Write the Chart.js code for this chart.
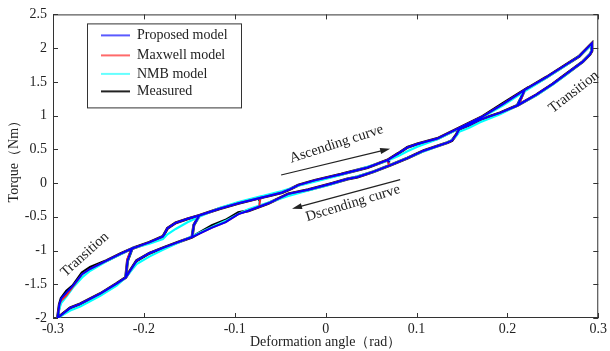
<!DOCTYPE html>
<html>
<head>
<meta charset="utf-8">
<script src="https://cdn.jsdelivr.net/npm/chart.js@4.4.1/dist/chart.umd.min.js"></script>
<style>
    html, body { margin: 0; padding: 0; background: #fff; }
    canvas { display: block; }
</style>
</head>
<body>
<canvas id="torqueChart" width="610" height="351"></canvas>
<script>
// Hysteresis path: ascending branch left to right, then descending branch back
const angle = [
    -0.295, -0.293, -0.291, -0.285, -0.278, -0.268, -0.259, -0.241, -0.226, -0.213,
    -0.218, -0.220, -0.218, -0.213, -0.194, -0.179, -0.174, -0.165, -0.152, -0.139,
    -0.145, -0.147, -0.145, -0.139, -0.117, -0.096, -0.072, -0.073, -0.072, -0.060,
    -0.048, -0.039, -0.030, -0.012, 0.017, 0.046, 0.068, 0.070, 0.068, 0.080,
    0.090, 0.101, 0.123, 0.146, 0.173, 0.195, 0.219, 0.215, 0.211, 0.215,
    0.219, 0.243, 0.264, 0.279, 0.293, 0.293, 0.291, 0.283, 0.264, 0.250,
    0.232, 0.211, 0.192, 0.170, 0.158, 0.147, 0.144, 0.139, 0.134, 0.108,
    0.090, 0.072, 0.053, 0.035, 0.024, 0.006, -0.019, -0.041, -0.063, -0.085,
    -0.096, -0.110, -0.125, -0.147, -0.163, -0.179, -0.194, -0.208, -0.220, -0.230,
    -0.248, -0.270, -0.281, -0.295
];

const measured = [
    -2.00, -1.80, -1.71, -1.60, -1.52, -1.33, -1.25, -1.15, -1.05, -0.97,
    -1.15, -1.40, -1.15, -0.97, -0.88, -0.79, -0.67, -0.59, -0.53, -0.48,
    -0.62, -0.80, -0.62, -0.48, -0.38, -0.30, -0.22, -0.27, -0.22, -0.18,
    -0.14, -0.09, -0.03, 0.04, 0.13, 0.23, 0.34, 0.30, 0.34, 0.44,
    0.53, 0.58, 0.66, 0.81, 0.99, 1.18, 1.38, 1.26, 1.15, 1.26,
    1.38, 1.57, 1.75, 1.88, 2.07, 1.96, 1.91, 1.80, 1.61, 1.47,
    1.31, 1.15, 1.04, 0.94, 0.86, 0.80, 0.72, 0.63, 0.60, 0.48,
    0.37, 0.27, 0.17, 0.09, 0.06, -0.01, -0.10, -0.16, -0.30, -0.41,
    -0.44, -0.55, -0.63, -0.80, -0.88, -0.96, -1.04, -1.15, -1.40, -1.49,
    -1.64, -1.79, -1.85, -2.00
];

const proposed = [
    -2.00, -1.80, -1.71, -1.62, -1.52, -1.35, -1.27, -1.15, -1.05, -0.97,
    -1.15, -1.40, -1.15, -0.97, -0.88, -0.79, -0.67, -0.59, -0.53, -0.48,
    -0.62, -0.80, -0.62, -0.48, -0.38, -0.30, -0.22, -0.24, -0.22, -0.18,
    -0.14, -0.09, -0.03, 0.04, 0.13, 0.23, 0.34, 0.31, 0.34, 0.44,
    0.53, 0.58, 0.66, 0.81, 0.99, 1.17, 1.38, 1.26, 1.15, 1.26,
    1.38, 1.57, 1.75, 1.88, 2.07, 1.96, 1.91, 1.80, 1.61, 1.47,
    1.31, 1.15, 1.04, 0.94, 0.86, 0.80, 0.72, 0.63, 0.60, 0.48,
    0.37, 0.27, 0.17, 0.09, 0.06, -0.01, -0.10, -0.16, -0.30, -0.41,
    -0.46, -0.58, -0.66, -0.80, -0.88, -0.96, -1.04, -1.15, -1.40, -1.49,
    -1.64, -1.79, -1.85, -2.00
];

const maxwell = [
    -2.00, -1.80, -1.74, -1.66, -1.53, -1.35, -1.27, -1.15, -1.05, -0.97,
    -1.12, -1.40, -1.12, -0.97, -0.88, -0.79, -0.67, -0.59, -0.53, -0.48,
    -0.62, -0.80, -0.62, -0.48, -0.38, -0.30, -0.22, -0.35, -0.22, -0.18,
    -0.14, -0.09, -0.03, 0.04, 0.13, 0.23, 0.34, 0.26, 0.34, 0.44,
    0.53, 0.58, 0.66, 0.81, 0.99, 1.17, 1.38, 1.24, 1.15, 1.24,
    1.38, 1.57, 1.75, 1.88, 2.07, 1.96, 1.91, 1.80, 1.61, 1.47,
    1.31, 1.15, 1.04, 0.94, 0.86, 0.80, 0.72, 0.63, 0.60, 0.48,
    0.37, 0.27, 0.17, 0.09, 0.06, -0.01, -0.10, -0.16, -0.30, -0.41,
    -0.46, -0.58, -0.66, -0.80, -0.88, -0.96, -1.04, -1.15, -1.40, -1.49,
    -1.64, -1.79, -1.85, -2.00
];

const nmb = [
    -2.00, -1.86, -1.78, -1.68, -1.55, -1.40, -1.30, -1.16, -1.06, -0.97,
    -1.15, -1.40, -1.15, -0.97, -0.90, -0.83, -0.76, -0.68, -0.58, -0.50,
    -0.62, -0.80, -0.62, -0.50, -0.37, -0.28, -0.20, -0.32, -0.20, -0.16,
    -0.12, -0.08, -0.04, 0.02, 0.12, 0.24, 0.33, 0.27, 0.33, 0.40,
    0.47, 0.54, 0.65, 0.80, 0.98, 1.15, 1.36, 1.26, 1.15, 1.26,
    1.36, 1.56, 1.74, 1.88, 2.05, 1.98, 1.92, 1.80, 1.60, 1.46,
    1.30, 1.15, 1.02, 0.90, 0.82, 0.76, 0.70, 0.64, 0.60, 0.47,
    0.37, 0.27, 0.17, 0.10, 0.06, -0.02, -0.11, -0.19, -0.29, -0.39,
    -0.46, -0.56, -0.65, -0.79, -0.89, -0.99, -1.09, -1.20, -1.40, -1.52,
    -1.67, -1.83, -1.89, -2.00
];

const angleTicks = [-0.3, -0.2, -0.1, 0, 0.1, 0.2, 0.3];
const torqueTicks = [-2, -1.5, -1, -0.5, 0, 0.5, 1, 1.5, 2, 2.5];

// text labels placed in data units: [text, angle, torque, rotation in degrees]
const notes = [
    ["Ascending curve", 0.012, 0.58, -18],
    ["Dscending curve", 0.030, -0.30, -17],
    ["Transition", -0.265, -1.06, -42],
    ["Transition", 0.273, 1.35, -38]
];
// arrows: [fromAngle, fromTorque, toAngle, toTorque]
const arrows = [
    [-0.049, 0.12, 0.071, 0.51],
    [0.082, 0.05, -0.037, -0.38]
];

const serif = '"Liberation Serif", "Times New Roman", serif';
const inkColor = "#222";

function toPoints(torque) {
    return angle.map((a, i) => ({ x: a, y: torque[i] }));
}

// box frame with inward tick marks on all four sides
const frameTicks = {
    id: "frameTicks",
    beforeDatasetsDraw(chart) {
        const { ctx, chartArea: a, scales: { x, y } } = chart;
        ctx.save();
        ctx.strokeStyle = "#333";
        ctx.lineWidth = 1;
        ctx.strokeRect(a.left + 0.5, a.top + 0.5, a.right - a.left - 1, a.bottom - a.top - 1);
        ctx.beginPath();
        const len = 5;
        angleTicks.forEach((v) => {
            const px = Math.round(x.getPixelForValue(v)) + 0.5;
            ctx.moveTo(px, a.bottom);
            ctx.lineTo(px, a.bottom - len);
            ctx.moveTo(px, a.top);
            ctx.lineTo(px, a.top + len);
        });
        torqueTicks.forEach((v) => {
            const py = Math.round(y.getPixelForValue(v)) + 0.5;
            ctx.moveTo(a.left, py);
            ctx.lineTo(a.left + len, py);
            ctx.moveTo(a.right, py);
            ctx.lineTo(a.right - len, py);
        });
        ctx.stroke();

        // torque axis title, sitting a little above the middle of the axis
        ctx.fillStyle = inkColor;
        ctx.font = "14px " + serif;
        ctx.textAlign = "center";
        ctx.textBaseline = "middle";
        ctx.translate(14, (a.top + a.bottom) / 2 - 8);
        ctx.rotate(-Math.PI / 2);
        ctx.fillText("Torque（Nm）", 0, 0);
        ctx.restore();
    },
};

// legend box in the upper left of the plot
const boxLegend = {
    id: "boxLegend",
    afterDraw(chart) {
        const { ctx, chartArea: a } = chart;
        const left = a.left + 34;
        const top = a.top + 9;
        const rows = [12, 32, 50.5, 68];
        ctx.save();
        ctx.fillStyle = "#fff";
        ctx.fillRect(left, top, 154, 84);
        ctx.strokeStyle = "#333";
        ctx.lineWidth = 1;
        ctx.strokeRect(left + 0.5, top + 0.5, 154, 84);
        ctx.font = "14px " + serif;
        ctx.textBaseline = "middle";
        chart.data.datasets.forEach((ds, i) => {
            const yy = top + rows[i];
            ctx.strokeStyle = ds.legendColor;
            ctx.lineWidth = 2;
            ctx.beginPath();
            ctx.moveTo(left + 14, yy);
            ctx.lineTo(left + 43, yy);
            ctx.stroke();
            ctx.fillStyle = inkColor;
            ctx.fillText(ds.label, left + 50, yy);
        });
        ctx.restore();
    },
};

// curve names, transition labels and direction arrows
const annotations = {
    id: "annotations",
    afterDatasetsDraw(chart) {
        const { ctx, scales: { x, y } } = chart;
        ctx.save();
        ctx.fillStyle = inkColor;
        ctx.strokeStyle = inkColor;
        ctx.font = "14.5px " + serif;
        ctx.textAlign = "center";
        ctx.textBaseline = "middle";
        notes.forEach(([text, nx, ny, rot]) => {
            ctx.save();
            ctx.translate(x.getPixelForValue(nx), y.getPixelForValue(ny));
            ctx.rotate((rot * Math.PI) / 180);
            ctx.fillText(text, 0, 0);
            ctx.restore();
        });
        arrows.forEach(([x0, y0, x1, y1]) => {
            const ax = x.getPixelForValue(x0), ay = y.getPixelForValue(y0);
            const bx = x.getPixelForValue(x1), by = y.getPixelForValue(y1);
            const t = Math.atan2(by - ay, bx - ax);
            ctx.lineWidth = 1.2;
            ctx.beginPath();
            ctx.moveTo(ax, ay);
            ctx.lineTo(bx - 6 * Math.cos(t), by - 6 * Math.sin(t));
            ctx.stroke();
            ctx.beginPath();
            ctx.moveTo(bx, by);
            ctx.lineTo(bx - 10 * Math.cos(t) + 3 * Math.sin(t), by - 10 * Math.sin(t) - 3 * Math.cos(t));
            ctx.lineTo(bx - 10 * Math.cos(t) - 3 * Math.sin(t), by - 10 * Math.sin(t) + 3 * Math.cos(t));
            ctx.closePath();
            ctx.fill();
        });
        ctx.restore();
    },
};

const ctx = document.getElementById("torqueChart").getContext("2d");

new Chart(ctx, {
    type: "scatter",
    data: {
        datasets: [
            { label: "Proposed model", data: toPoints(proposed), borderColor: "#0000ff", legendColor: "#5a5aff", borderWidth: 2 },
            { label: "Maxwell model", data: toPoints(maxwell), borderColor: "#ff2020", legendColor: "#ff6a6a", borderWidth: 2 },
            { label: "NMB model", data: toPoints(nmb), borderColor: "#00ffff", legendColor: "#66ffff", borderWidth: 2.2 },
            { label: "Measured", data: toPoints(measured), borderColor: "#000000", legendColor: "#222", borderWidth: 3 },
        ].map((ds) => ({ ...ds, showLine: true, pointRadius: 0, tension: 0, fill: false })),
    },
    options: {
        responsive: false,
        animation: false,
        devicePixelRatio: 1,
        layout: {
            padding: { top: 13, right: 7, left: 0, bottom: 0 },
        },
        plugins: {
            legend: { display: false },
            tooltip: { enabled: false },
        },
        scales: {
            x: {
                type: "linear",
                min: -0.3,
                max: 0.3,
                afterBuildTicks: (scale) => {
                    scale.ticks = angleTicks.map((v) => ({ value: v }));
                },
                afterFit: (scale) => {
                    scale.height = 33;
                },
                grid: { display: false, drawTicks: false },
                border: { display: false },
                ticks: {
                    padding: 3,
                    color: inkColor,
                    font: { family: serif, size: 14 },
                    maxRotation: 0,
                    callback: (v) => String(v),
                },
                title: {
                    display: true,
                    text: "Deformation angle（rad）",
                    color: inkColor,
                    font: { family: serif, size: 14 },
                    padding: { top: 0, bottom: 0 },
                },
            },
            y: {
                type: "linear",
                min: -2,
                max: 2.5,
                afterBuildTicks: (scale) => {
                    scale.ticks = torqueTicks.map((v) => ({ value: v }));
                },
                afterFit: (scale) => {
                    scale.width = 53;
                },
                grid: { display: false, drawTicks: false },
                border: { display: false },
                ticks: {
                    padding: 6,
                    color: inkColor,
                    font: { family: serif, size: 14 },
                    callback: (v) => String(v),
                },
            },
        },
    },
    plugins: [frameTicks, annotations, boxLegend],
});
</script>
</body>
</html>
